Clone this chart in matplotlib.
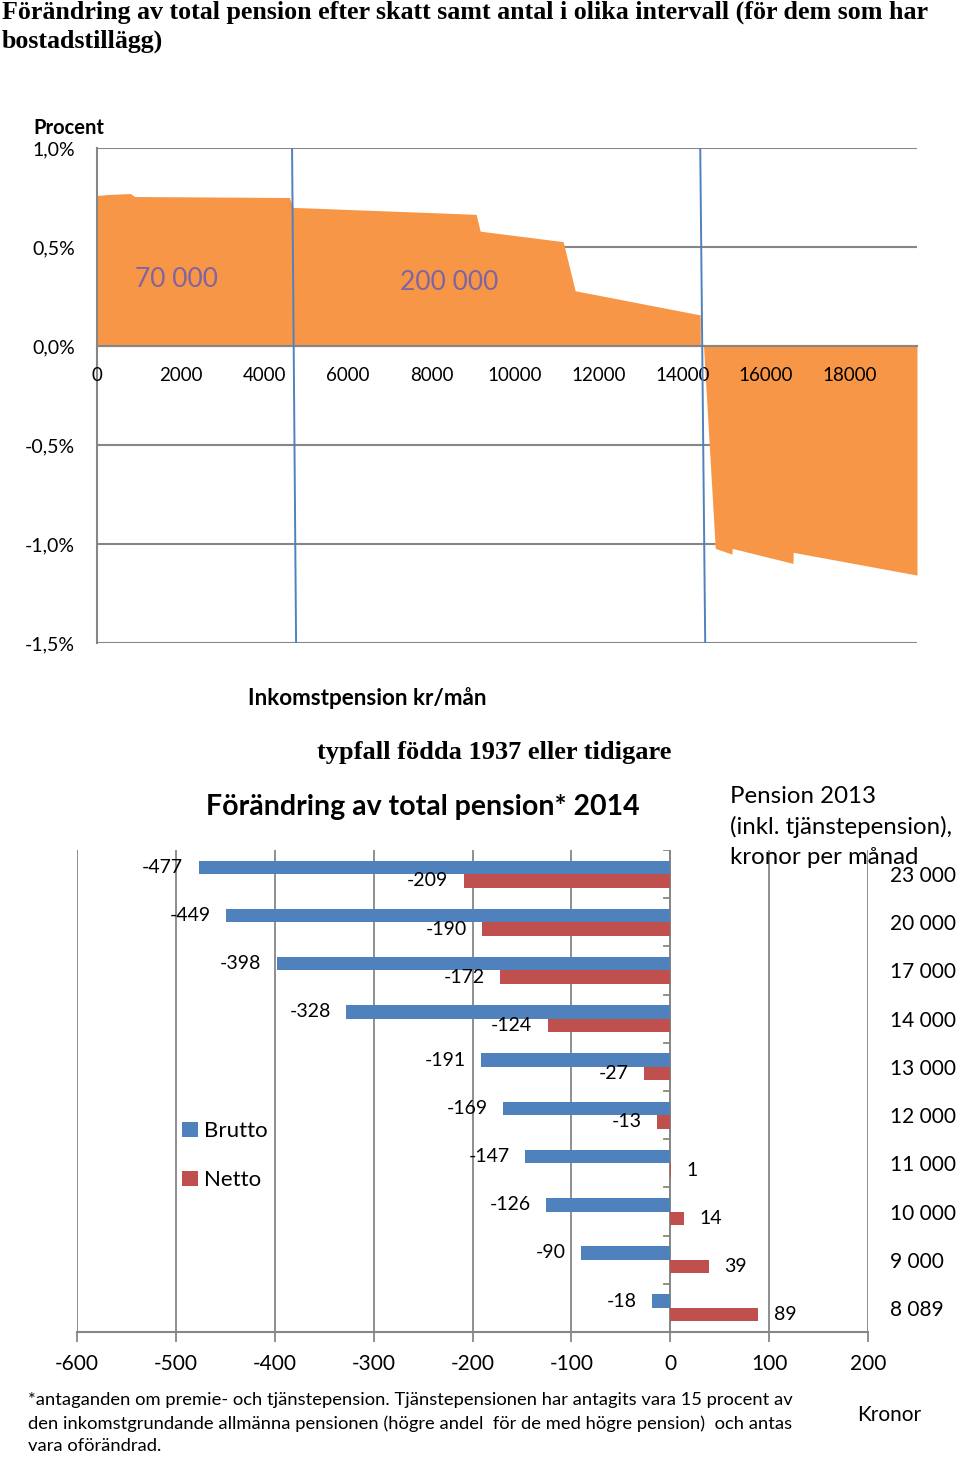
import numpy as np
import matplotlib.pyplot as plt
from matplotlib.ticker import FuncFormatter

plt.rcParams['font.family'] = ['Lato', 'DejaVu Sans']
plt.rcParams['axes.unicode_minus'] = False

# övre diagrammet: förändring (procent) mot inkomstpension kr/mån
inkomst = [0, 250, 800, 900, 4600, 4690, 9067, 9163, 11148, 11435,
           14426, 14430, 14505, 14785, 15183, 15190, 16643, 16650, 19610]
andring = [0.76, 0.765, 0.77, 0.755, 0.75, 0.70, 0.665, 0.58, 0.527, 0.279,
           0.157, 0.0, 0.0, -1.022, -1.051, -1.022, -1.098, -1.042, -1.157]
grans_topp = [4665, 14426]     # intervallgränser (övre ände)
grans_botten = [4761, 14545]   # intervallgränser (nedre ände)
intervall_text = ['70 000', '200 000']
intervall_x = [1890, 8420]
intervall_y = [0.338, 0.323]

# nedre diagrammet: förändring av total pension 2014, kronor
kategorier = ['23 000', '20 000', '17 000', '14 000', '13 000',
              '12 000', '11 000', '10 000', '9 000', '8 089']
brutto = [-477, -449, -398, -328, -191, -169, -147, -126, -90, -18]
netto = [-209, -190, -172, -124, -27, -13, 1, 14, 39, 89]

W, H = 960, 1459
GRAY = '#868686'
ORANGE = '#F79646'
BLUE = '#4F81BD'
RED = '#C0504D'


def fx(x):
    return x / W


def fy(y):
    return 1 - y / H


fig = plt.figure(figsize=(W / 100, H / 100), dpi=100)

fig.text(fx(2), fy(1), 'Förändring av total pension efter skatt samt antal i olika intervall (för dem som har\nbostadstillägg)',
         family='Liberation Serif', weight='bold', fontsize=18.7, va='top', ha='left', linespacing=1.3)

# ---- övre diagram ----
ax1 = fig.add_axes([fx(97), fy(643), fx(917 - 97), (643 - 148) / H])
yticks = np.arange(-1.5, 1.01, 0.5)
for v in yticks:
    ax1.axhline(v, color=GRAY, lw=1.5, zorder=1)
ax1.fill_between(inkomst, andring, 0, color=ORANGE, lw=0, zorder=2)
for xt, xb in zip(grans_topp, grans_botten):
    ax1.plot([xt, xb], [1.0, -1.5], color=BLUE, lw=1.4, zorder=4)
for t, x, y in zip(intervall_text, intervall_x, intervall_y):
    ax1.text(x, y, t, color='#8064A2', fontsize=19, ha='center', va='center', zorder=5)

ax1.set_xlim(0, 19610)
ax1.set_ylim(-1.5, 1.0)
ax1.set_yticks(yticks)
ax1.yaxis.set_major_formatter(FuncFormatter(lambda v, p: f'{v:.1f}%'.replace('.', ',')))
ax1.set_xticks(range(0, 18001, 2000))
ax1.set_axisbelow(False)
ax1.spines['bottom'].set_position(('data', 0))
ax1.spines['bottom'].set_color(GRAY)
ax1.spines['bottom'].set_linewidth(1.5)
ax1.spines['left'].set_color(GRAY)
ax1.spines['left'].set_linewidth(1.5)
ax1.spines['top'].set_visible(False)
ax1.spines['right'].set_visible(False)
ax1.tick_params(axis='x', length=0, pad=15, labelsize=13.5)
ax1.tick_params(axis='y', length=0, pad=16, labelsize=14)

fig.text(fx(33), fy(128), 'Procent', weight='bold', fontsize=14.5, ha='left', va='center')
fig.text(fx(367), fy(698), 'Inkomstpension kr/mån', weight='bold', fontsize=16.2, ha='center', va='center')
fig.text(fx(494), fy(752), 'typfall födda 1937 eller tidigare', family='Liberation Serif',
         weight='bold', fontsize=19, ha='center', va='center')
fig.text(fx(423), fy(807), 'Förändring av total pension* 2014', weight='bold', fontsize=20.5,
         ha='center', va='center')
fig.text(fx(730), fy(786), 'Pension 2013\n(inkl. tjänstepension),\nkronor per månad', fontsize=17.3,
         ha='left', va='top', linespacing=1.5)

# ---- nedre diagram ----
ax2 = fig.add_axes([fx(77), fy(1332), fx(868 - 77), (1332 - 850) / H])
y = np.arange(len(kategorier))
h = 0.28
ax2.barh(y - h / 2, brutto, height=h, color=BLUE, label='Brutto', zorder=3)
ax2.barh(y + h / 2, netto, height=h, color=RED, label='Netto', zorder=3)

for vals, off in ((brutto, -h / 2), (netto, h / 2)):
    for i, v in enumerate(vals):
        ax2.annotate(str(v), (v, i + off), xytext=(-11 if v < 0 else 11, 0), textcoords='offset points',
                     ha='right' if v < 0 else 'left', va='center', fontsize=14, zorder=5)

ax2.set_xlim(-600, 200)
ax2.set_ylim(len(kategorier) - 0.5, -0.5)
ax2.set_xticks(range(-600, 201, 100))
ax2.grid(axis='x', color=GRAY, lw=1.3, zorder=1)
ax2.axvline(0, color=GRAY, lw=1.3, zorder=2)
for b in np.arange(-0.5, len(kategorier), 1):
    ax2.plot([-6, 0], [b, b], color=GRAY, lw=1.3, zorder=2)
for s in ('top', 'left', 'right'):
    ax2.spines[s].set_visible(False)
ax2.spines['bottom'].set_color(GRAY)
ax2.spines['bottom'].set_linewidth(1.5)
ax2.set_yticks(y)
ax2.set_yticklabels(kategorier)
ax2.yaxis.tick_right()
ax2.tick_params(axis='y', length=0, pad=16, labelsize=15)
ax2.tick_params(axis='x', length=7, width=1.3, color=GRAY, pad=9, labelsize=15)

ax2.legend(loc='upper left', bbox_to_anchor=(0.133, 0.437), frameon=False, fontsize=16,
           handlelength=0.7, handleheight=0.7, handletextpad=0.3, labelspacing=1.3,
           borderpad=0, borderaxespad=0)

fig.text(fx(28), fy(1392), '*antaganden om premie- och tjänstepension. Tjänstepensionen har antagits vara 15 procent av\n'
         'den inkomstgrundande allmänna pensionen (högre andel  för de med högre pension)  och antas\n'
         'vara oförändrad.', fontsize=13.2, ha='left', va='top', linespacing=1.52)
fig.text(fx(889), fy(1415), 'Kronor', fontsize=15, ha='center', va='center')

fig.savefig('out.png', dpi=100)
